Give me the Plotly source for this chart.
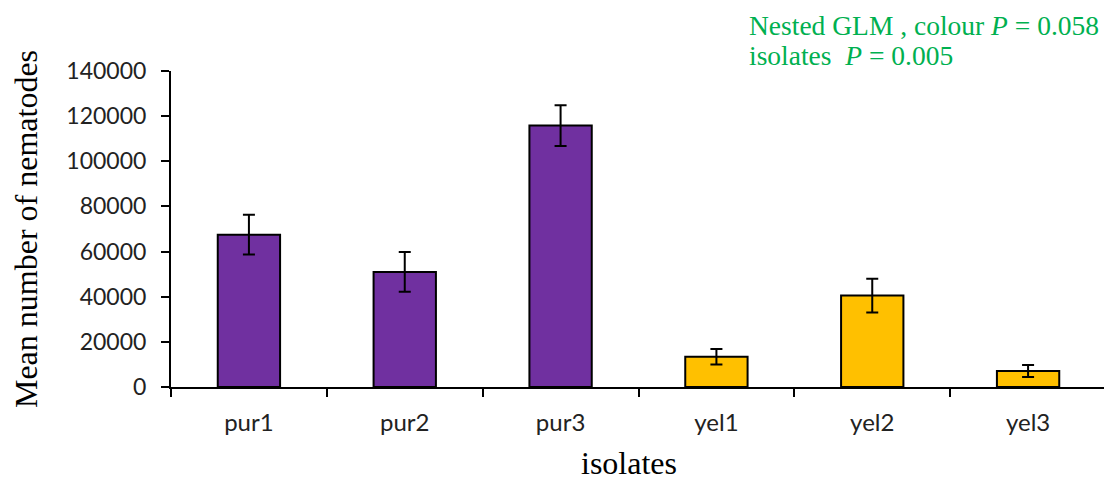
import plotly.graph_objects as go

isolates = ["pur1", "pur2", "pur3", "yel1", "yel2", "yel3"]
mean_nematodes = [67500, 51000, 115800, 13400, 40500, 7100]
std_error = [8800, 8800, 9000, 3400, 7500, 2700]
bar_colours = ["#7030A0", "#7030A0", "#7030A0", "#FFC000", "#FFC000", "#FFC000"]
y_ticks = [0, 20000, 40000, 60000, 80000, 100000, 120000, 140000]
stats_lines = ["Nested GLM , colour <i>P</i> = 0.058", "isolates  <i>P</i> = 0.005"]

# the page body has an 8px default margin, so the figure is offset by 8px
fig = go.Figure(
    go.Bar(
        x=isolates,
        y=mean_nematodes,
        width=0.4,
        marker=dict(color=bar_colours, line=dict(color="black", width=2)),
        error_y=dict(type="data", array=std_error, visible=True,
                     color="black", thickness=2, width=6),
    )
)

plot_h = 316
fig.update_layout(
    width=1104, height=474,
    margin=dict(l=163, r=6, t=63, b=95),
    paper_bgcolor="white", plot_bgcolor="white",
    showlegend=False,
    font=dict(family="Lato", color="black"),
    xaxis=dict(
        showline=True, linecolor="black", linewidth=2,
        ticks="outside", tickson="boundaries", ticklen=8, tickwidth=2, tickcolor="black",
        tickfont=dict(family="Lato", size=24, color="#222222"),
        ticklabelstandoff=13,
        showgrid=False, zeroline=False,
    ),
    yaxis=dict(
        range=[0, 140000], tickvals=y_ticks, ticktext=[str(v) for v in y_ticks],
        showline=True, linecolor="black", linewidth=2,
        ticks="outside", ticklen=8, tickwidth=2, tickcolor="black",
        tickfont=dict(family="Lato", size=23, color="#222222"),
        ticklabelstandoff=10,
        title=dict(text="Mean number of nematodes", font=dict(family="Liberation Serif", size=32, color="black"), standoff=26),
        showgrid=False, zeroline=False,
    ),
    annotations=[
        dict(
            xref="paper", yref="paper", x=(739 - 163) / 935, y=1 + (63 - 0) / plot_h,
            xanchor="left", yanchor="top", align="left", showarrow=False,
            text=stats_lines[0],
            font=dict(family="Liberation Serif", size=27.5, color="#00B050"),
        ),
        dict(
            xref="paper", yref="paper", x=(739 - 163) / 935, y=1 + (63 - 30) / plot_h,
            xanchor="left", yanchor="top", align="left", showarrow=False,
            text=stats_lines[1],
            font=dict(family="Liberation Serif", size=27.5, color="#00B050"),
        ),
        dict(
            xref="paper", yref="paper", x=(621 - 163) / 935, y=-(474 - 379) / plot_h,
            xanchor="center", yanchor="bottom", showarrow=False, borderpad=0,
            text="isolates",
            font=dict(family="Liberation Serif", size=32, color="black"),
        ),
    ],
)

fig.write_html("out.html")
